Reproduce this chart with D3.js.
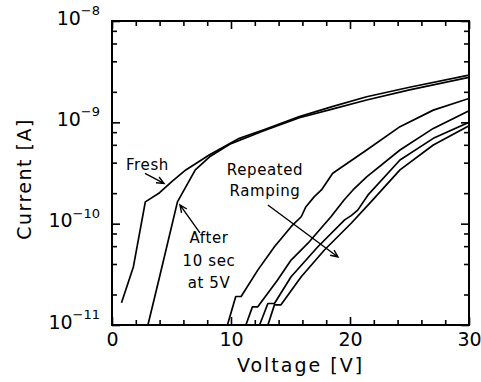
<!DOCTYPE html>
<html>
<head>
<meta charset="utf-8">
<script src="https://cdn.jsdelivr.net/npm/d3@7"></script>
<style>
  html, body { margin: 0; padding: 0; background: #fff; }
  svg { display: block; font-family: "DejaVu Sans", sans-serif; }
</style>
</head>
<body>
<svg id="chart" width="481" height="382"></svg>
<script>
// Current–voltage sweeps (voltage in V, current in A)
const freshV    = [0.8, 1.8, 2.8, 4.0, 5.0, 6.2, 8.2, 10.7, 12.7, 15.75, 18.5, 21.4, 25.0, 30.0];
const freshI    = [1.66e-11, 3.76e-11, 1.64e-10, 2.02e-10, 2.59e-10, 3.39e-10, 4.79e-10, 6.95e-10, 8.39e-10, 1.14e-9, 1.43e-9, 1.79e-9, 2.22e-9, 2.93e-9];

const afterV    = [3.0, 4.0, 5.5, 7.0, 8.2, 10.0, 12.7, 15.75, 18.5, 21.4, 25.0, 30.0];
const afterI    = [9.8e-12, 2.99e-11, 1.64e-10, 3.39e-10, 4.57e-10, 6.17e-10, 8.22e-10, 1.11e-9, 1.35e-9, 1.66e-9, 2.09e-9, 2.78e-9];

const ramp1V    = [9.7, 10.4, 10.85, 12.25, 13.65, 15.05, 15.9, 16.3, 17.0, 17.6, 18.55, 21.4, 24.2, 27.0, 30.0];
const ramp1I    = [1.0e-11, 1.91e-11, 1.91e-11, 3.48e-11, 5.92e-11, 9.33e-11, 1.17e-10, 1.47e-10, 1.85e-10, 2.15e-10, 3.14e-10, 5.33e-10, 9.06e-10, 1.32e-9, 1.72e-9];

const ramp2V    = [11.25, 11.8, 12.25, 13.9, 15.05, 16.45, 18.4, 19.5, 20.25, 21.4, 24.2, 27.0, 30.0];
const ramp2I    = [1.0e-11, 1.51e-11, 1.51e-11, 2.77e-11, 4.37e-11, 6.38e-11, 1.17e-10, 1.71e-10, 2.15e-10, 2.90e-10, 5.33e-10, 8.71e-10, 1.30e-9];

const ramp3V    = [12.4, 13.1, 13.65, 15.05, 17.3, 19.55, 20.1, 20.65, 21.5, 24.2, 27.0, 30.0];
const ramp3I    = [1.0e-11, 1.63e-11, 1.63e-11, 2.99e-11, 5.92e-11, 1.09e-10, 1.20e-10, 1.36e-10, 1.91e-10, 4.25e-10, 6.95e-10, 1.0e-9];

const ramp4V    = [13.1, 13.65, 14.2, 15.9, 17.85, 20.1, 21.8, 24.2, 27.0, 30.0];
const ramp4I    = [1.0e-11, 1.58e-11, 1.58e-11, 2.99e-11, 5.50e-11, 1.01e-10, 1.66e-10, 3.39e-10, 5.97e-10, 9.23e-10];

// Axis ticks
const xMajorTicks = [0, 10, 20, 30];
const xMinorTicks = [2, 4, 6, 8, 12, 14, 16, 18, 22, 24, 26, 28];
const yDecades    = [1e-11, 1e-10, 1e-9, 1e-8];
const yDecadeExps = ["−11", "−10", "−9", "−8"];
const yMinorMult  = [2, 4, 6, 8];

const margin = { top: 21, right: 12, bottom: 57, left: 112 };
const W = 481, H = 382;
const width = W - margin.left - margin.right;
const height = H - margin.top - margin.bottom;

const svg = d3.select("#chart");
const g = svg.append("g").attr("transform", `translate(${margin.left},${margin.top})`);

const x = d3.scaleLinear().domain([0, 30]).range([0, width]);
const y = d3.scaleLog().domain([1e-11, 1e-8]).range([height, 0]);

svg.append("defs").append("clipPath").attr("id", "plotClip")
  .append("rect").attr("width", width).attr("height", height);

const yMinor = [];
yDecades.slice(0, -1).forEach(d => yMinorMult.forEach(m => yMinor.push(d * m)));

function styleAxis(sel) {
  sel.select(".domain").remove();
  sel.selectAll(".tick line").attr("stroke", "#000").attr("stroke-width", 1.6);
}

// Bottom axis with labels
const xAxisG = g.append("g").attr("transform", `translate(0,${height})`)
  .call(d3.axisBottom(x).tickValues(xMajorTicks).tickSize(-8).tickPadding(8).tickFormat(d3.format("d")))
  .call(styleAxis);
xAxisG.selectAll("text").attr("font-size", 19).attr("fill", "#000")
  .attr("font-family", "DejaVu Sans, sans-serif");
g.append("g").attr("transform", `translate(0,${height})`)
  .call(d3.axisBottom(x).tickValues(xMinorTicks).tickSize(-5).tickFormat(""))
  .call(styleAxis);

// Top axis (mirrored ticks)
g.append("g").call(d3.axisTop(x).tickValues(xMajorTicks).tickSize(-8).tickFormat("")).call(styleAxis);
g.append("g").call(d3.axisTop(x).tickValues(xMinorTicks).tickSize(-5).tickFormat("")).call(styleAxis);

// Left axis with power-of-ten labels
const yAxisG = g.append("g")
  .call(d3.axisLeft(y).tickValues(yDecades).tickSize(-8).tickPadding(12).tickFormat(""))
  .call(styleAxis);
yAxisG.selectAll(".tick text").each(function (d, i) {
  const t = d3.select(this)
    .attr("fill", "#000").attr("font-family", "DejaVu Sans, sans-serif")
    .attr("dy", "0.32em").attr("text-anchor", "end");
  t.append("tspan").attr("font-size", 19).text("10");
  t.append("tspan").attr("font-size", 13).attr("dy", "-0.75em").text(yDecadeExps[i]);
});
g.append("g").call(d3.axisLeft(y).tickValues(yMinor).tickSize(-5).tickFormat("")).call(styleAxis);

// Right axis (mirrored ticks)
g.append("g").attr("transform", `translate(${width},0)`)
  .call(d3.axisRight(y).tickValues(yDecades).tickSize(-8).tickFormat("")).call(styleAxis);
g.append("g").attr("transform", `translate(${width},0)`)
  .call(d3.axisRight(y).tickValues(yMinor).tickSize(-5).tickFormat("")).call(styleAxis);

// Frame
g.append("rect").attr("width", width).attr("height", height)
  .attr("fill", "none").attr("stroke", "#000").attr("stroke-width", 2);

// Curves
const line = d3.line().x(d => x(d[0])).y(d => y(d[1]));
const series = [
  [freshV, freshI], [afterV, afterI],
  [ramp1V, ramp1I], [ramp2V, ramp2I], [ramp3V, ramp3I], [ramp4V, ramp4I]
];
const curves = g.append("g").attr("clip-path", "url(#plotClip)");
series.forEach(([vs, is]) => {
  curves.append("path")
    .datum(vs.map((v, k) => [v, is[k]]))
    .attr("d", line)
    .attr("fill", "none").attr("stroke", "#000")
    .attr("stroke-width", 1.7).attr("stroke-linejoin", "round");
});

// Annotations (positioned in data units)
function label(v, i, text, size = 15) {
  g.append("text").attr("x", x(v)).attr("y", y(i))
    .attr("text-anchor", "middle").attr("font-size", size)
    .attr("letter-spacing", 0.6).attr("fill", "#000").text(text);
}
function arrow(v0, i0, v1, i1) {
  const x0 = x(v0), y0 = y(i0), x1 = x(v1), y1 = y(i1);
  const a = Math.atan2(y1 - y0, x1 - x0), L = 8, s = 0.42;
  g.append("path")
    .attr("d", `M${x0},${y0}L${x1},${y1}` +
      `M${x1 - L * Math.cos(a - s)},${y1 - L * Math.sin(a - s)}L${x1},${y1}` +
      `L${x1 - L * Math.cos(a + s)},${y1 - L * Math.sin(a + s)}`)
    .attr("fill", "none").attr("stroke", "#000").attr("stroke-width", 1.4);
}

label(2.98, 3.39e-10, "Fresh");
arrow(2.77, 3.14e-10, 4.37, 2.50e-10);

label(8.15, 6.46e-11, "After");
label(8.15, 3.82e-11, "10 sec");
label(8.15, 2.32e-11, "at 5V");
arrow(7.39, 8.1e-11, 5.71, 1.53e-10);

label(12.86, 3.02e-10, "Repeated");
label(12.86, 1.87e-10, "Ramping");
arrow(13.1, 1.53e-10, 18.99, 4.69e-11);

// Axis titles
svg.append("text")
  .attr("x", margin.left + width / 2 + 10).attr("y", 372)
  .attr("text-anchor", "middle").attr("font-size", 19).attr("letter-spacing", 2)
  .attr("fill", "#000").text("Voltage [V]");
svg.append("text")
  .attr("transform", `translate(31,${179}) rotate(-90)`)
  .attr("text-anchor", "middle").attr("font-size", 19).attr("letter-spacing", 1.5)
  .attr("fill", "#000").text("Current [A]");
</script>
</body>
</html>
